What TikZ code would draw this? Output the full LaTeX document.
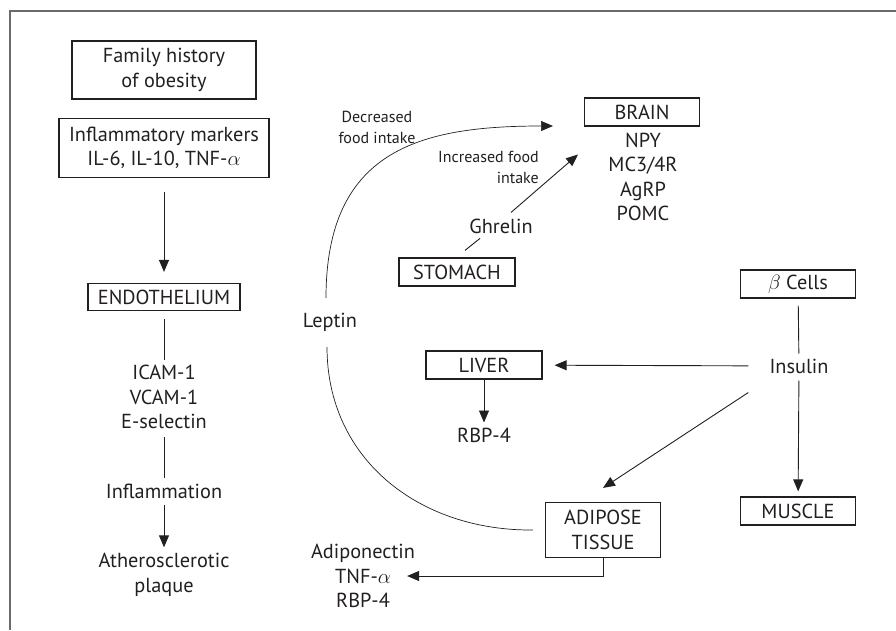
\documentclass[tikz,border=0pt]{standalone}
\usepackage{fontspec}
\setmainfont{PT Sans}
\usetikzlibrary{arrows.meta,positioning}
\definecolor{ink}{HTML}{231F20}
\definecolor{framegray}{HTML}{6B6B6B}
\newcommand\mainsz{\fontsize{20.3}{24.5}\selectfont}
\newcommand\smallsz{\fontsize{16}{21}\selectfont}
\tikzset{
	box/.style={draw=ink, line width=1.2pt, inner sep=0pt, minimum height=28pt, minimum width=115pt, align=center, font=\mainsz, text=ink},
	txt/.style={align=center, font=\mainsz, inner sep=0pt, text=ink},
	small/.style={align=center, font=\smallsz, inner sep=0pt, text=ink},
	arr/.style={draw=ink, line width=0.9pt, -{Triangle[length=12pt,width=10pt]}},
	link/.style={draw=ink, line width=0.9pt},
	curve/.style={draw=ink, line width=0.7pt},
}
\begin{document}
\begin{tikzpicture}[x=1pt,y=-1pt]
		\useasboundingbox (0,0) rectangle (896,630);
		\draw[framegray, line width=1.6pt] (10,630)--(10,11)--(896,11);
		\node[box, minimum width=184pt, minimum height=58pt] (family) at (164,70) {Family history\\of obesity};
		\node[box, minimum width=210pt, minimum height=59pt] (markers) at (164,148) {Inflammatory markers\\IL-6, IL-10, TNF-$\alpha$};
		\node[box, minimum width=152pt, minimum height=27pt] (endo) at (164,297) {ENDOTHELIUM};
		\node[txt] (adhesion) at (164,397) {ICAM-1\\VCAM-1\\E-selectin};
		\node[txt] (inflam) at (164,491) {Inflammation};
		\node[txt] (plaque) at (164,575) {Atherosclerotic\\plaque};
		\draw[arr, shorten <=14pt, shorten >=11pt] (markers)--(endo);
		\draw[link, shorten <=8pt, shorten >=5pt] (endo)--(adhesion);
		\draw[link, shorten <=8pt, shorten >=5pt] (adhesion)--(inflam);
		\draw[arr, shorten <=6pt, shorten >=6pt] (inflam)--(plaque);
		\node[box] (brain) at (642,112) {BRAIN};
		\node[txt] (brainlist) at (643,177) {NPY\\MC3/4R\\AgRP\\POMC};
		\node[box, minimum width=116pt] (stomach) at (457,272) {STOMACH};
		\node[txt] (ghrelin) at (501,226) {Ghrelin};
		\draw[link] (stomach.north) ++(8,-7)--++(15,-12);
		\draw[arr] (ghrelin.north) ++(10,-6)--++(67,-58);
		\node[small, align=right, anchor=east] (increased) at (539,167) {Increased food\\intake};
		\node[txt] (leptin) at (330,322) {Leptin};
		\coordinate (leptop) at (326,298);
		\coordinate (lepbot) at (327,347);
		\draw[curve, -{Triangle[length=12pt,width=10pt]}] (leptop) .. controls (326,150) and (420,126) .. (553,126);
		\node[small] (decreased) at (377,127) {Decreased\\food intake};
		\node[box] (beta) at (798,284) {$\beta$ Cells};
		\node[txt] (insulin) at (799,366) {Insulin};
		\node[box, minimum width=116pt] (liver) at (484,365) {LIVER};
		\node[txt] (rbp) at (484,435) {RBP-4};
		\node[box] (muscle) at (798,511) {MUSCLE};
		\node[box, minimum height=55pt] (adipose) at (603,530) {ADIPOSE\\TISSUE};
		\node[txt] (adipolist) at (363,576) {Adiponectin\\TNF-$\alpha$\\RBP-4};
		\draw[link, shorten <=7pt, shorten >=5pt] (beta)--(insulin);
		\draw[arr, shorten <=21pt, shorten >=12pt] (insulin)--(liver);
		\draw[arr, shorten >=5pt] (liver)--(rbp);
		\draw[arr] (insulin.south west) ++(-21,19)--([yshift=14pt]adipose.north);
		\draw[arr, shorten <=7pt, shorten >=5pt] (insulin)--(muscle);
		\draw[curve] (lepbot) .. controls (327,460) and (420,531) .. ([xshift=-12pt]adipose.west);
		\draw[arr] (adipose.south) |- ([xshift=-8pt]adipolist.east);
	\end{tikzpicture}
\end{document}
